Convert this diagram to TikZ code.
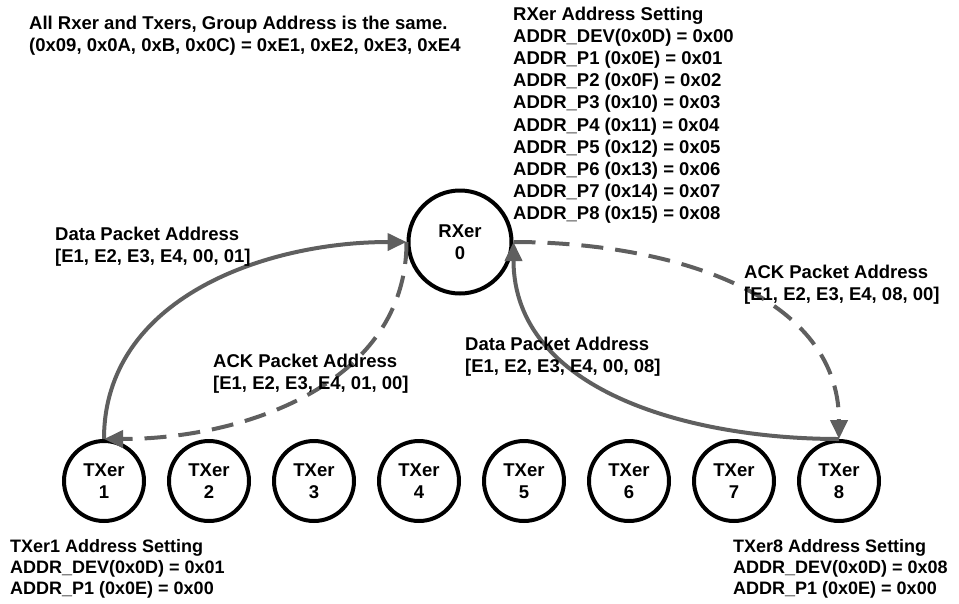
\documentclass[tikz,border=0pt]{standalone}
\usepackage{fontspec}
\setmainfont{Liberation Sans}
\usetikzlibrary{arrows.meta}
\definecolor{linkgray}{RGB}{95,95,95}
\tikzset{
     station/.style={draw, circle, line width=4pt, minimum size=#1, inner sep=0pt, align=center},
     rxstation/.style={station=103pt},
     txstation/.style={station=80pt},
     note/.style={anchor=north west, inner sep=0pt, align=left},
     smallnote/.style={note, font=\bfseries\fontsize{18}{21}\selectfont},
     datalink/.style={-{Triangle[length=19pt,width=17pt]}, line width=4pt, draw=linkgray},
     acklink/.style={datalink, dash pattern=on 22pt off 12pt},
}

\begin{document}
\begin{tikzpicture}[x=1pt, y=-1pt, font=\bfseries\fontsize{18.5}{22.2}\selectfont]
       \useasboundingbox (0,0) rectangle (959,603);

       % stations
       \node[rxstation] (rx) at (460,242) {RXer\\0};
       \foreach \i in {1,...,8}{
		\node[txstation] (tx\i) at ({104+105*(\i-1)},481) {TXer\\\i};
	}

       % links
       \draw[datalink] (tx1.north) to[out=90, in=180] (rx.west);
       \draw[acklink] (rx.west) to[out=-90, in=0] (tx1.north);
       \draw[acklink] (rx.east) to[out=0, in=90] (tx8.north);
       \draw[datalink] (tx8.north) to[out=180, in=-90] (rx.east);

       % texts
       \node[note] (group) at (29,15.5) {All Rxer and Txers, Group Address is the same.\\(0x09, 0x0A, 0xB, 0x0C) = 0xE1, 0xE2, 0xE3, 0xE4};
       \node[note] (rxset) at (513,6.5) {RXer Address Setting\\ADDR\_DEV(0x0D) = 0x00\\ADDR\_P1 (0x0E) = 0x01\\ADDR\_P2 (0x0F) = 0x02\\ADDR\_P3 (0x10) = 0x03\\ADDR\_P4 (0x11) = 0x04\\ADDR\_P5 (0x12) = 0x05\\ADDR\_P6 (0x13) = 0x06\\ADDR\_P7 (0x14) = 0x07\\ADDR\_P8 (0x15) = 0x08};
       \node[note] (data1) at (55,226.5) {Data Packet Address\\{[E1, E2, E3, E4, 00, 01]}};
       \node[note] (ack1) at (213,353.5) {ACK Packet Address\\{[E1, E2, E3, E4, 01, 00]}};
       \node[note] (ack8) at (744,264.5) {ACK Packet Address\\{[E1, E2, E3, E4, 08, 00]}};
       \node[note] (data8) at (465,336.5) {Data Packet Address\\{[E1, E2, E3, E4, 00, 08]}};
       \node[smallnote] (tx1set) at (10,539) {TXer1 Address Setting\\ADDR\_DEV(0x0D) = 0x01\\ADDR\_P1 (0x0E) = 0x00};
       \node[smallnote] (tx8set) at (733,539) {TXer8 Address Setting\\ADDR\_DEV(0x0D) = 0x08\\ADDR\_P1 (0x0E) = 0x00};
      \end{tikzpicture}
\end{document}
